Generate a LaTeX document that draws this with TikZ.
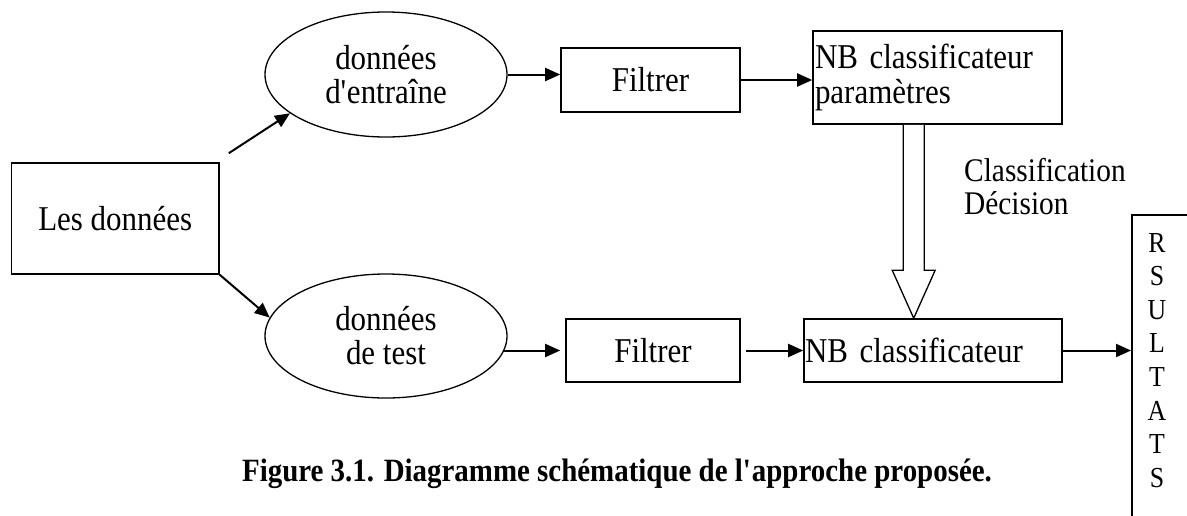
\documentclass[tikz,border=0pt]{standalone}
\usepackage{fontspec}
\setmainfont[FakeStretch=0.89]{Liberation Serif}
\usetikzlibrary{arrows.meta,calc,shapes.geometric}
\begin{document}
\begin{tikzpicture}[x=1pt,y=-1pt,
  box/.style={draw, line width=1.6pt, rectangle, inner sep=0pt, font=\fontsize{34.8}{35}\selectfont},
  ell/.style={draw, line width=1.3pt, ellipse, inner sep=0pt, minimum width=242pt, minimum height=125pt, align=center, font=\fontsize{34.8}{34}\selectfont},
  arr/.style={line width=2pt, -{Triangle[length=15pt,width=13pt]}},
]
\useasboundingbox (0,0) rectangle (1187,515);
\clip (0,0) rectangle (1187,515);

\node[box, minimum width=207.5pt, minimum height=111pt] (data) at (115.25,218.5) {Les données};
\node[ell] (train) at (386,74.5) {données\\d\textquotesingle entraîne};
\node[ell, minimum height=124pt] (test) at (386,336) {données\\de test};
\node[box, minimum width=179pt, minimum height=64pt] (f1) at (650.5,80) {Filtrer};
\node[box, minimum width=174pt, minimum height=63pt] (f2) at (653,350.5) {Filtrer};
\node[box, minimum width=249pt, minimum height=93pt, text width=245pt, align=left, inner xsep=2pt] (nbp) at (937.5,77.5) {NB classificateur\\paramètres};
\node[box, minimum width=258pt, minimum height=63pt, text width=256pt, align=left, inner xsep=1pt] (nb) at (933,350.5) {NB classificateur};
\node[box, anchor=north west, minimum width=120pt, minimum height=340pt] (res) at (1131,214) {};
\node[font=\fontsize{29}{33.6}\selectfont, align=center, anchor=north, inner sep=0pt] (restxt) at (1157,233) {R\\S\\U\\L\\T\\A\\T\\S};
\node[font=\fontsize{33}{33}\selectfont, align=left, anchor=west, inner sep=0pt] (cd) at (964,187) {Classification\\Décision};
\node[font=\bfseries\fontsize{32.5}{30}\selectfont, inner sep=0pt] (cap) at (617,474) {Figure 3.1. Diagramme schématique de l\textquotesingle approche proposée.};

\draw[arr] ([shift={(9pt,9pt)}]data.north east) -- (train.202);
\draw[arr] (data.south east) -- (test.171);
\draw[arr] (train.east) -- (train.east -| f1.west);
\draw[arr] (f1.east) -- (f1.east -| nbp.west);
\draw[arr] ($(test.east |- f2.west)+(-5pt,0)$) -- ($(f2.west)+(-5pt,0)$);
\draw[arr] ($(f2.east)+(5pt,0)$) -- (nb.west);
\draw[arr] (nb.east) -- (nb.east -| res.west);

\path (nbp.south west) ++(101.5pt,0) coordinate (hs);
\path (nb.north west) ++(110.5pt,0) coordinate (ht);
\draw[line width=1.3pt, fill=white] ($(hs)+(-10.5pt,0)$) -- ($(ht)+(-10.5pt,48pt)$) -- ($(ht)+(-21.5pt,48pt)$) -- (ht) -- ($(ht)+(21.5pt,48pt)$) -- ($(ht)+(10.5pt,48pt)$) -- ($(hs)+(10.5pt,0)$);
\end{tikzpicture}
\end{document}
